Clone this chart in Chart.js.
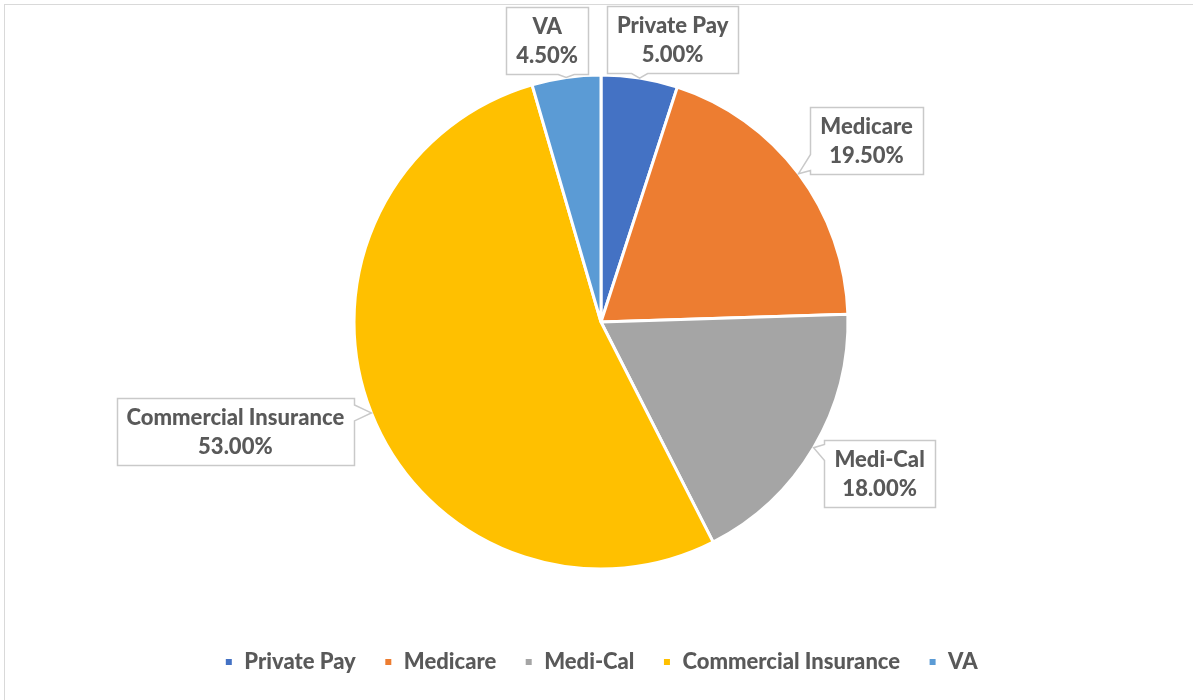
<!DOCTYPE html>
<html>
<head>
<meta charset="utf-8">
<script src="https://cdn.jsdelivr.net/npm/chart.js@4"></script>
<style>
  html, body { margin: 0; padding: 0; background: #fff; overflow: hidden; }
  #wrap { position: relative; width: 1193px; height: 700px; }
  #frame { position: absolute; left: 4px; top: 4px; width: 1300px; height: 800px; border: 1.5px solid #d9d9d9; pointer-events: none; }
  canvas { position: absolute; left: 0; top: 0; }
</style>
</head>
<body>
<div id="wrap">
  <canvas id="pie" width="1193" height="700"></canvas>
  <div id="frame"></div>
</div>
<script>
/* payer mix pie */

var categories = ['Private Pay', 'Medicare', 'Medi-Cal', 'Commercial Insurance', 'VA'];
var shares = [5.0, 19.5, 18.0, 53.0, 4.5];
var sliceColors = ['#4472c4', '#ed7d31', '#a5a5a5', '#ffc000', '#5b9bd5'];

// where each callout box sits, relative to the slice point it points at
var calloutShift = [[33, -39], [68, -33], [66, 26], [-136, 19], [-19, -37]];

var textColor = '#595959';
var labelFont = '900 22px Lato';

var calloutPlugin = {
  id: 'callouts',
  afterDatasetsDraw: function (chart) {
    var ctx = chart.ctx;
    var arcs = chart.getDatasetMeta(0).data;
    ctx.save();
    ctx.font = labelFont;
    for (var i = 0; i < arcs.length; i++) {
      var a = arcs[i];
      var mid = (a.startAngle + a.endAngle) / 2;
      var tip = { x: a.x + Math.cos(mid) * a.outerRadius, y: a.y + Math.sin(mid) * a.outerRadius };
      var line1 = categories[i];
      var line2 = shares[i].toFixed(2) + '%';
      var w = Math.max(ctx.measureText(line1).width, ctx.measureText(line2).width) + 20;
      var h = 67;
      var cx = tip.x + calloutShift[i][0], cy = tip.y + calloutShift[i][1];
      var l = Math.round(cx - w / 2) + 0.5, r = Math.round(cx + w / 2) + 0.5;
      var t = Math.round(cy - h / 2) + 0.5, b = Math.round(cy + h / 2) + 0.5;

      var side = tip.y > b ? 'bottom' : tip.y < t ? 'top' : tip.x < l ? 'left' : 'right';
      var hw = 8;
      function clamp(v, lo, hi) { return Math.max(lo, Math.min(hi, v)); }
      var pts = [];
      pts.push([l, t]);
      if (side === 'top') { var c = clamp(tip.x, l + 12, r - 12); pts.push([c - hw, t], [tip.x, tip.y], [c + hw, t]); }
      pts.push([r, t]);
      if (side === 'right') { var c2 = clamp(tip.y, t + 12, b - 12); pts.push([r, c2 - hw], [tip.x, tip.y], [r, c2 + hw]); }
      pts.push([r, b]);
      if (side === 'bottom') { var c3 = clamp(tip.x, l + 12, r - 12); pts.push([c3 + hw, b], [tip.x, tip.y], [c3 - hw, b]); }
      pts.push([l, b]);
      if (side === 'left') { var c4 = clamp(tip.y, t + 12, b - 12); pts.push([l, c4 + hw], [tip.x, tip.y], [l, c4 - hw]); }

      ctx.beginPath();
      ctx.moveTo(pts[0][0], pts[0][1]);
      for (var k = 1; k < pts.length; k++) ctx.lineTo(pts[k][0], pts[k][1]);
      ctx.closePath();
      ctx.fillStyle = '#ffffff';
      ctx.fill();
      ctx.lineWidth = 1.5;
      ctx.strokeStyle = '#c9c9c9';
      ctx.stroke();

      ctx.fillStyle = textColor;
      ctx.textAlign = 'center';
      ctx.textBaseline = 'alphabetic';
      ctx.fillText(line1, cx, cy - 6.5);
      ctx.fillText(line2, cx, cy + 22.5);
    }
    ctx.restore();
  }
};

new Chart(document.getElementById('pie'), {
  type: 'pie',
  data: {
    labels: categories,
    datasets: [{
      data: shares,
      backgroundColor: sliceColors,
      borderColor: '#ffffff',
      borderWidth: 3,
      radius: 247
    }]
  },
  options: {
    responsive: false,
    animation: false,
    layout: { padding: { top: 21, left: 9, right: 0, bottom: 17 } },
    plugins: {
      legend: {
        position: 'bottom',
        labels: {
          color: textColor,
          font: { family: 'Lato', size: 22, weight: '900' },
          boxWidth: 9,
          boxHeight: 9,
          padding: 28
        }
      },
      tooltip: { enabled: false }
    }
  },
  plugins: [calloutPlugin]
});
</script>
</body>
</html>
